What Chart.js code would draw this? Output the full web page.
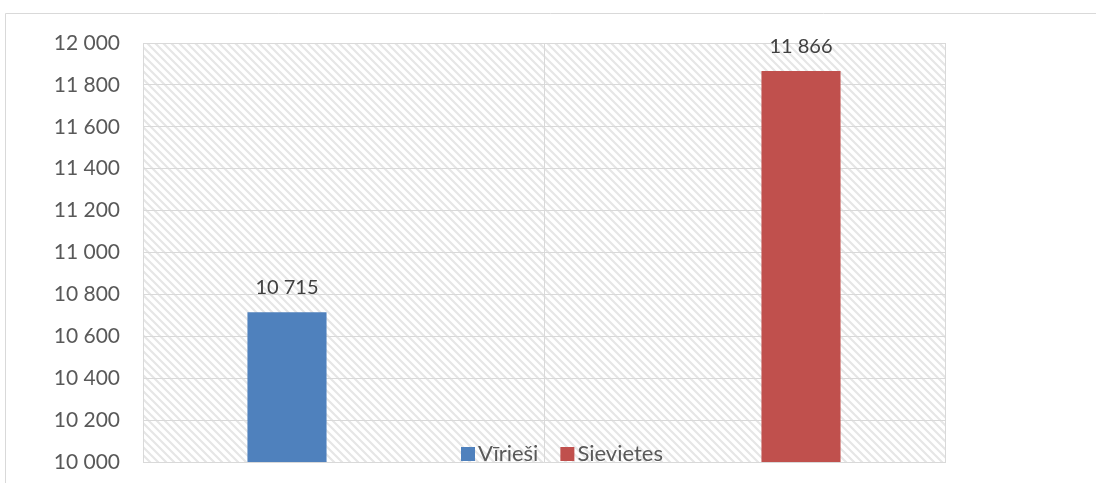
<!DOCTYPE html>
<html>
<head>
<meta charset="utf-8">
<script src="https://cdn.jsdelivr.net/npm/chart.js@4/dist/chart.umd.min.js"></script>
<style>
  body { margin: 0; background: #fff; }
  canvas { display: block; }
</style>
</head>
<body>
<canvas id="myChart" width="1096" height="483"></canvas>
<script>
var categories = ["Vīrieši", "Sievietes"];
var seriesNames = ["Vīrieši", "Sievietes"];
var menValues = [10715, null];
var womenValues = [null, 11866];
var barColors = ["#4F81BD", "#C0504D"];
var yMin = 10000, yMax = 12000, yStep = 200;

function fmt(v) {
  return String(v).replace(/\B(?=(\d{3})+(?!\d))/g, " ");
}

function makeHatch() {
  var c = document.createElement("canvas");
  c.width = 8; c.height = 8;
  var g = c.getContext("2d");
  g.fillStyle = "#ffffff";
  g.fillRect(0, 0, 8, 8);
  g.strokeStyle = "#e6e6e6";
  g.lineWidth = 2.2;
  g.beginPath();
  g.moveTo(-2, -2); g.lineTo(10, 10);
  g.moveTo(-10, -2); g.lineTo(2, 10);
  g.moveTo(6, -2); g.lineTo(18, 10);
  g.stroke();
  return c;
}

const frameAndHatch = {
  id: "frameAndHatch",
  beforeDraw(chart) {
    const ctx = chart.ctx, a = chart.chartArea;
    ctx.save();
    ctx.strokeStyle = "#d9d9d9";
    ctx.lineWidth = 1;
    ctx.beginPath();
    ctx.moveTo(5.5, chart.height);
    ctx.lineTo(5.5, 13.5);
    ctx.lineTo(chart.width, 13.5);
    ctx.stroke();
    ctx.fillStyle = ctx.createPattern(makeHatch(), "repeat");
    ctx.fillRect(a.left, a.top, a.right - a.left, a.bottom - a.top);
    ctx.restore();
  }
};

const valueLabels = {
  id: "valueLabels",
  afterDatasetsDraw(chart) {
    const ctx = chart.ctx;
    ctx.save();
    ctx.font = "20px Lato";
    ctx.fillStyle = "#404040";
    ctx.textAlign = "center";
    ctx.textBaseline = "alphabetic";
    chart.data.datasets.forEach((ds, i) => {
      chart.getDatasetMeta(i).data.forEach((bar, j) => {
        if (ds.data[j] == null) return;
        ctx.fillText(fmt(ds.data[j]), bar.x, bar.y - 18);
      });
    });
    ctx.restore();
  }
};

const innerLegend = {
  id: "innerLegend",
  afterDraw(chart) {
    const ctx = chart.ctx, a = chart.chartArea;
    let x = a.left + 318;
    const base = a.bottom - 1;
    ctx.save();
    ctx.font = "22px Lato";
    ctx.textBaseline = "alphabetic";
    chart.data.datasets.forEach((ds) => {
      ctx.fillStyle = ds.backgroundColor;
      ctx.fillRect(x, base - 14, 14, 14);
      ctx.fillStyle = "#595959";
      ctx.fillText(ds.label, x + 17, base);
      x += 17 + ctx.measureText(ds.label).width + 22;
    });
    ctx.restore();
  }
};

new Chart("myChart", {
  type: "bar",
  data: {
    labels: categories,
    datasets: [
      { label: seriesNames[0], data: menValues, backgroundColor: barColors[0] },
      { label: seriesNames[1], data: womenValues, backgroundColor: barColors[1] }
    ]
  },
  options: {
    responsive: false,
    animation: false,
    categoryPercentage: 0.5636,
    barPercentage: 0.7,
    layout: { padding: { left: 0, right: 151, top: 43, bottom: 21 } },
    plugins: {
      legend: { display: false },
      tooltip: { enabled: false }
    },
    scales: {
      x: {
        grid: { color: "#d9d9d9", drawTicks: false, offset: true },
        border: { color: "#d9d9d9" },
        ticks: { display: false },
        afterFit(s) {
          s.height = 0;
          s.paddingTop = s.paddingBottom = s.paddingLeft = s.paddingRight = 0;
        }
      },
      y: {
        min: yMin,
        max: yMax,
        grid: { color: "#d9d9d9", drawTicks: false },
        border: { color: "#d9d9d9" },
        ticks: {
          stepSize: yStep,
          padding: 23,
          color: "#595959",
          font: { family: "Lato", size: 21 },
          callback: (v) => fmt(v)
        },
        afterFit(s) {
          s.width = 143;
          s.paddingTop = s.paddingBottom = 0;
        }
      }
    }
  },
  plugins: [frameAndHatch, valueLabels, innerLegend]
});
</script>
</body>
</html>
